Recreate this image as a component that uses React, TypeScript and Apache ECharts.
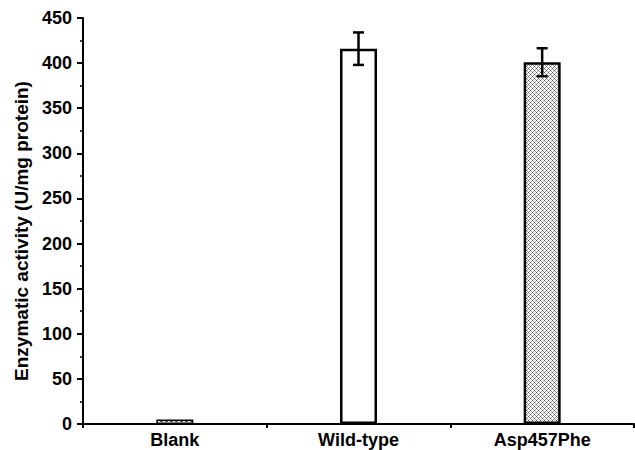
import React, { useEffect, useRef } from "react";
import * as echarts from "echarts";

const categories = ["Blank", "Wild-type", "Asp457Phe"];
const activity = [5, 416, 401];
const errors = [0, 18, 15.5];
const yTicks = { min: 0, max: 450, interval: 50 };
const yTitle = "Enzymatic activity (U/mg protein)";

function makePattern(kind: "cross" | "dash"): string {
  const c = document.createElement("canvas");
  const ctx = c.getContext("2d")!;
  if (kind === "cross") {
    c.width = 4;
    c.height = 4;
    ctx.fillStyle = "#ffffff";
    ctx.fillRect(0, 0, 4, 4);
    ctx.fillStyle = "#555555";
    ctx.fillRect(0, 0, 1, 1);
    ctx.fillRect(2, 2, 1, 1);
    ctx.fillStyle = "#999999";
    ctx.fillRect(1, 1, 1, 1);
    ctx.fillRect(3, 3, 1, 1);
    ctx.fillRect(1, 3, 1, 1);
    ctx.fillRect(3, 1, 1, 1);
  } else {
    c.width = 5;
    c.height = 3;
    ctx.fillStyle = "#ffffff";
    ctx.fillRect(0, 0, 5, 3);
    ctx.fillStyle = "#555555";
    ctx.fillRect(0, 1, 3, 1);
  }
  return c.toDataURL();
}

export default function App() {
  const ref = useRef<HTMLDivElement>(null);
  useEffect(() => {
    document.body.style.margin = "0";
    const chart = echarts.init(ref.current!, null, { renderer: "svg" });
    const cross = makePattern("cross");
    const dash = makePattern("dash");
    const fills: any[] = [
      { image: dash, repeat: "repeat" },
      "#ffffff",
      { image: cross, repeat: "repeat" },
    ];
    const borders = [1.5, 2.5, 2.5];
    const font = "'Liberation Sans', Arial, sans-serif";
    chart.setOption({
      animation: false,
      backgroundColor: "#ffffff",
      grid: { left: 83, right: 1, top: 18, bottom: 26 },
      graphic: [
        {
          type: "text",
          x: 21,
          y: 231,
          rotation: Math.PI / 2,
          style: {
            text: yTitle,
            fill: "#000",
            font: `bold 19px ${font}`,
            align: "center",
            verticalAlign: "middle",
          },
        },
      ],
      xAxis: {
        type: "category",
        data: categories,
        boundaryGap: true,
        axisLine: { lineStyle: { color: "#000", width: 2 } },
        axisTick: { show: true, interval: 0, length: 4, lineStyle: { color: "#000", width: 2 } },
        axisLabel: { color: "#000", fontWeight: "bold", fontSize: 18, fontFamily: font, margin: 7 },
        splitLine: { show: false },
      },
      yAxis: {
        type: "value",
        min: yTicks.min,
        max: yTicks.max,
        interval: yTicks.interval,
        axisLine: { show: true, lineStyle: { color: "#000", width: 2 } },
        axisTick: { show: true, length: 6, lineStyle: { color: "#000", width: 2 } },
        minorTick: { show: true, splitNumber: 2, length: 3, lineStyle: { color: "#000", width: 1.5 } },
        axisLabel: { color: "#000", fontWeight: "bold", fontSize: 18, fontFamily: font, margin: 11 },
        splitLine: { show: false },
      },
      series: [
        {
          type: "bar",
          barWidth: 37,
          data: activity.map((v, i) => ({
            value: v,
            itemStyle: { color: fills[i], borderColor: "#000", borderWidth: borders[i] },
          })),
          z: 2,
        },
        {
          type: "custom",
          z: 3,
          data: activity.map((v, i) => [i, v - errors[i], v + errors[i]]),
          renderItem: (params: any, api: any) => {
            const x = api.value(0);
            if (api.value(2) - api.value(1) <= 0) return { type: "group", children: [] };
            const lo = api.coord([x, api.value(1)]);
            const hi = api.coord([x, api.value(2)]);
            const cap = 5.5;
            const style = { stroke: "#000", lineWidth: 2.5 };
            return {
              type: "group",
              children: [
                { type: "line", shape: { x1: hi[0], y1: hi[1], x2: lo[0], y2: lo[1] }, style },
                { type: "line", shape: { x1: hi[0] - cap, y1: hi[1], x2: hi[0] + cap, y2: hi[1] }, style },
                { type: "line", shape: { x1: lo[0] - cap, y1: lo[1], x2: lo[0] + cap, y2: lo[1] }, style },
              ],
            };
          },
        },
      ],
    });
    return () => chart.dispose();
  }, []);
  return <div ref={ref} style={{ width: 635, height: 450 }} />;
}
